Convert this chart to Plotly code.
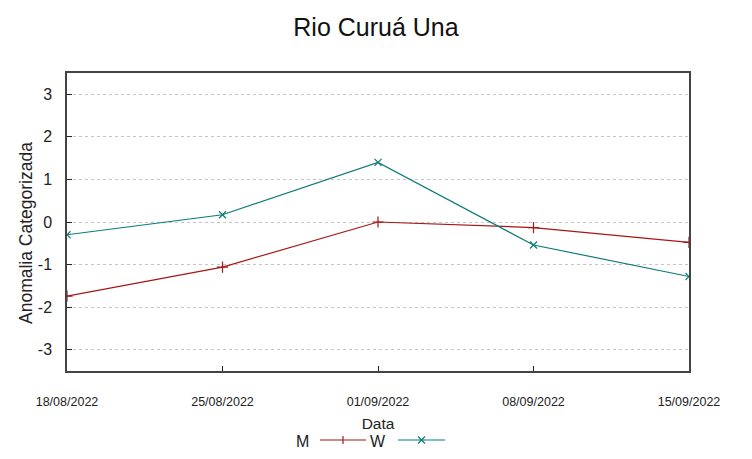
import plotly.graph_objects as go

dates = ["2022-08-18", "2022-08-25", "2022-09-01", "2022-09-08", "2022-09-15"]
date_labels = ["18/08/2022", "25/08/2022", "01/09/2022", "08/09/2022", "15/09/2022"]
m_values = [-1.74, -1.06, 0.0, -0.13, -0.48]
w_values = [-0.30, 0.17, 1.40, -0.54, -1.28]
y_ticks = [-3, -2, -1, 0, 1, 2, 3]
y_tick_labels = ["-3", "-2", "-1", "0", "1", "2", "3"]

M_COLOR = "#a81616"
W_COLOR = "#0b7b78"
FONT = "Liberation Sans, Arial, sans-serif"

fig = go.Figure()
fig.add_trace(go.Scatter(x=dates, y=m_values, mode="lines+markers", name="M",
                         line=dict(color=M_COLOR, width=1.2),
                         marker=dict(symbol="cross-thin", size=8,
                                     line=dict(color=M_COLOR, width=1.2))))
fig.add_trace(go.Scatter(x=dates, y=w_values, mode="lines+markers", name="W",
                         line=dict(color=W_COLOR, width=1.2),
                         marker=dict(symbol="x-thin", size=7,
                                     line=dict(color=W_COLOR, width=1.2))))

# gnuplot-style legend (label then sample)
def px_x(p):
    return (p - 67) / 622.0

def px_y(p):
    return (371 - p) / 298.0

shapes = []
annotations = []
ly = 440
for label, color, tx, x0, x1, sym in [("M", M_COLOR, 302, 320, 366, "+"),
                                        ("W", W_COLOR, 378, 398, 445, "x")]:
    annotations.append(dict(text=label, x=px_x(tx), y=px_y(ly), xref="paper", yref="paper",
                            xanchor="center", yanchor="middle", yshift=-1,
                            showarrow=False, font=dict(size=16, color="#222", family=FONT)))
    shapes.append(dict(type="line", xref="paper", yref="paper", x0=px_x(x0), x1=px_x(x1),
                       y0=px_y(ly), y1=px_y(ly), line=dict(color=color, width=1.2)))
    cx = (x0 + x1) / 2
    if sym == "+":
        shapes.append(dict(type="line", xref="paper", yref="paper", x0=px_x(cx), x1=px_x(cx),
                           y0=px_y(ly - 4), y1=px_y(ly + 4), line=dict(color=color, width=1.2)))
    else:
        shapes.append(dict(type="line", xref="paper", yref="paper", x0=px_x(cx - 3.5), x1=px_x(cx + 3.5),
                           y0=px_y(ly - 3.5), y1=px_y(ly + 3.5), line=dict(color=color, width=1.2)))
        shapes.append(dict(type="line", xref="paper", yref="paper", x0=px_x(cx - 3.5), x1=px_x(cx + 3.5),
                           y0=px_y(ly + 3.5), y1=px_y(ly - 3.5), line=dict(color=color, width=1.2)))

# y-axis title placed like the reference (slightly below plot centre)
annotations.append(dict(text="Anomalia Categorizada", textangle=-90,
                        x=px_x(26), y=px_y(233), xref="paper", yref="paper",
                        xanchor="center", yanchor="middle", showarrow=False,
                        font=dict(size=17.5, color="#222", family=FONT)))

fig.update_layout(
    width=752, height=459,
    margin=dict(l=67, r=63, t=73, b=88, autoexpand=False),
    paper_bgcolor="white", plot_bgcolor="white",
    showlegend=False,
    title=dict(text="Rio Curuá Una", x=0.5, xanchor="center", y=0.94, yanchor="middle",
               font=dict(size=25, color="#111", family=FONT), automargin=False),
    font=dict(family=FONT, color="#222"),
    shapes=shapes, annotations=annotations,
)
fig.update_xaxes(
    type="date", range=[dates[0], dates[-1]],
    tickvals=dates, ticktext=date_labels,
    tickfont=dict(size=12.5, family="Liberation Sans Narrow, " + FONT, color="#222"),
    ticks="inside", ticklen=5, tickcolor="#222",
    ticklabelstandoff=18,
    showgrid=False, zeroline=False, automargin=False,
    showline=True, linecolor="#444", linewidth=1.5, mirror=True,
    title=dict(text="Data", font=dict(size=15.5, family=FONT, color="#222"), standoff=10),
)
fig.update_yaxes(
    range=[-3.5, 3.5], tickvals=y_ticks, ticktext=y_tick_labels,
    tickfont=dict(size=16, family=FONT, color="#222"),
    ticks="inside", ticklen=5, tickcolor="#222",
    ticklabelstandoff=10, automargin=False,
    showgrid=True, gridcolor="#c4c4c4", griddash="dot", gridwidth=1,
    zeroline=False,
    showline=True, linecolor="#444", linewidth=1.5, mirror=True,
)

fig.write_html("out.html", config={"displayModeBar": False},
               post_script="document.body.style.margin='0';document.body.style.overflow='hidden';")
